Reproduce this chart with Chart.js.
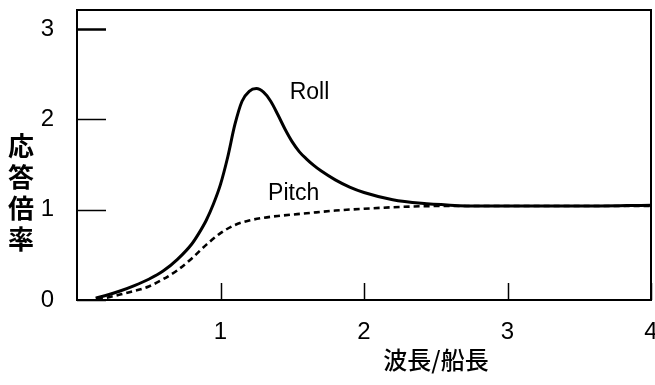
<!DOCTYPE html>
<html lang="ja">
<head>
    <meta charset="UTF-8">
    <title>応答倍率</title>
    <script src="https://cdn.jsdelivr.net/npm/chart.js"></script>
    <style>
        html, body { margin: 0; padding: 0; background: #fff; }
        .wrap { width: 655px; height: 385px; position: relative; }
    </style>
</head>
<body>
    <div class="wrap"><canvas id="rao"></canvas></div>

    <script>
        // values
        const rollX = [0.13, 0.2, 0.3, 0.4, 0.5, 0.6, 0.7, 0.8, 0.85, 0.9, 0.95, 1.0, 1.05, 1.1, 1.15, 1.2, 1.25, 1.3, 1.35, 1.4, 1.45, 1.5, 1.55, 1.6, 1.65, 1.7, 1.8, 1.9, 2.0, 2.2, 2.4, 2.6, 2.8, 3.0, 3.5, 4.0];
        const rollY = [0.02, 0.05, 0.10, 0.16, 0.23, 0.32, 0.45, 0.62, 0.74, 0.88, 1.06, 1.28, 1.58, 1.94, 2.20, 2.31, 2.34, 2.30, 2.20, 2.05, 1.89, 1.75, 1.64, 1.56, 1.49, 1.43, 1.33, 1.25, 1.19, 1.11, 1.07, 1.05, 1.04, 1.04, 1.04, 1.05];
        const pitchX = [0.14, 0.3, 0.4, 0.5, 0.6, 0.7, 0.8, 0.9, 1.0, 1.1, 1.2, 1.3, 1.4, 1.6, 1.8, 2.0, 2.25, 2.5, 3.0, 3.5, 4.0];
        const pitchY = [0.00, 0.06, 0.10, 0.15, 0.23, 0.33, 0.46, 0.61, 0.74, 0.83, 0.88, 0.91, 0.93, 0.96, 0.99, 1.01, 1.03, 1.04, 1.04, 1.04, 1.04];
        const xTicks = [1, 2, 3, 4];
        const yTicks = [0, 1, 2, 3];
        const xTitle = '波長/船長';
        const yTitle = '応答倍率';
        const curveLabels = [
            { text: 'Roll', x: 1.62, y: 2.30 },
            { text: 'Pitch', x: 1.51, y: 1.18 }
        ];

        const pts = (xs, ys) => xs.map((x, i) => ({ x: x, y: ys[i] }));
        const numFont = '"Liberation Sans", Arial, sans-serif';
        const jpFont = '"Noto Sans CJK JP", sans-serif';

        // frame, inward tick marks, titles and curve names
        const decor = {
            id: 'decor',
            afterDraw(chart) {
                const { ctx, chartArea: a, scales } = chart;
                const xs = scales.x, ys = scales.y;
                ctx.save();
                ctx.strokeStyle = '#000';
                ctx.lineWidth = 2;
                ctx.strokeRect(a.left, a.top, a.right - a.left, a.bottom - a.top);

                yTicks.forEach(v => {
                    const py = Math.round(ys.getPixelForValue(v)) + 0.5;
                    ctx.lineWidth = v === 3 ? 2.5 : 1.5;
                    ctx.beginPath();
                    ctx.moveTo(a.left, py);
                    ctx.lineTo(a.left + 29, py);
                    ctx.stroke();
                });
                xTicks.forEach(v => {
                    const px = Math.round(xs.getPixelForValue(v)) + 0.5;
                    ctx.lineWidth = 1.5;
                    ctx.beginPath();
                    ctx.moveTo(px, a.bottom);
                    ctx.lineTo(px, a.bottom - 17);
                    ctx.stroke();
                });

                ctx.fillStyle = '#000';
                ctx.textAlign = 'center';
                ctx.textBaseline = 'middle';
                ctx.font = '500 24px ' + jpFont;
                ctx.fillText(xTitle, 436, 360);

                ctx.font = 'bold 26px ' + jpFont;
                [...yTitle].forEach((ch, i) => {
                    ctx.fillText(ch, 21, 146 + i * 31);
                });

                ctx.font = '23px ' + numFont;
                curveLabels.forEach(l => {
                    ctx.fillText(l.text, xs.getPixelForValue(l.x), ys.getPixelForValue(l.y));
                });
                ctx.restore();
            }
        };

        new Chart(document.getElementById('rao'), {
            type: 'line',
            data: {
                datasets: [
                    {
                        label: 'Roll',
                        data: pts(rollX, rollY),
                        borderColor: '#000',
                        borderWidth: 3,
                        pointRadius: 0,
                        cubicInterpolationMode: 'monotone',
                        fill: false
                    },
                    {
                        label: 'Pitch',
                        data: pts(pitchX, pitchY),
                        borderColor: '#000',
                        borderWidth: 2.6,
                        borderDash: [6, 4],
                        pointRadius: 0,
                        cubicInterpolationMode: 'monotone',
                        fill: false
                    }
                ]
            },
            options: {
                responsive: true,
                maintainAspectRatio: false,
                animation: false,
                layout: { padding: { top: 10, right: 4, left: 0, bottom: 0 } },
                plugins: { legend: { display: false }, tooltip: { enabled: false } },
                scales: {
                    x: {
                        type: 'linear',
                        min: 0,
                        max: 4,
                        afterFit: s => { s.height = 85; s.paddingLeft = 0; s.paddingRight = 0; },
                        afterBuildTicks: s => { s.ticks = xTicks.map(v => ({ value: v })); },
                        grid: { display: false },
                        border: { display: false },
                        ticks: { color: '#000', font: { family: numFont, size: 24 }, padding: 10, maxRotation: 0 }
                    },
                    y: {
                        min: 0,
                        max: 3.21,
                        afterFit: s => { s.width = 77; s.paddingTop = 0; s.paddingBottom = 0; },
                        afterBuildTicks: s => { s.ticks = yTicks.map(v => ({ value: v })); },
                        grid: { display: false },
                        border: { display: false },
                        ticks: { color: '#000', font: { family: numFont, size: 24 }, padding: 15 }
                    }
                }
            },
            plugins: [decor]
        });
    </script>
</body>
</html>
